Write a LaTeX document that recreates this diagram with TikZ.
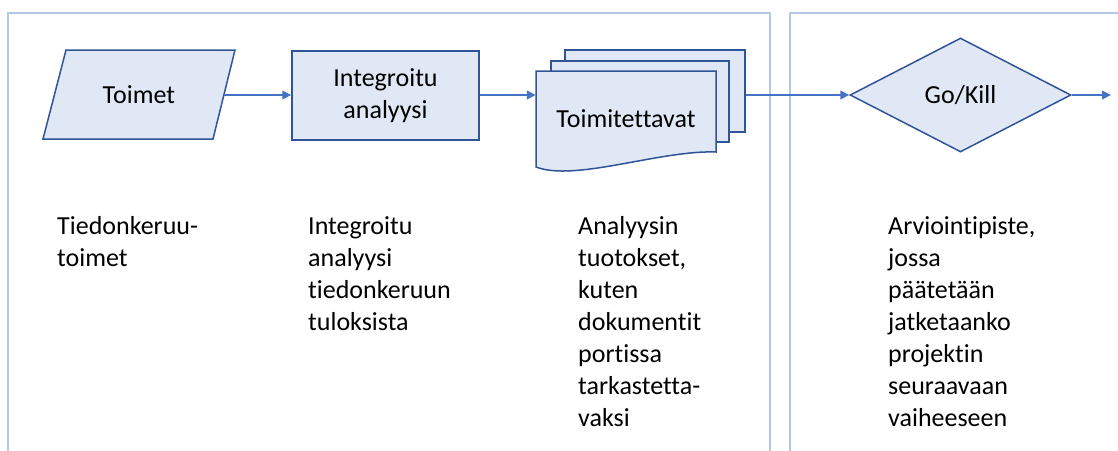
\documentclass[tikz,border=0pt]{standalone}
\usepackage{fontspec}
\setmainfont[Ligatures=NoCommon]{Carlito}
\usetikzlibrary{arrows.meta,shapes.geometric,calc}
\definecolor{panelblue}{HTML}{B4C7E7}
\definecolor{shapefill}{HTML}{E0E7F5}
\definecolor{shapeline}{HTML}{2F5597}
\definecolor{flowblue}{HTML}{4472C4}
\begin{document}
\begin{tikzpicture}[x=1pt,y=-1pt,
  every node/.style={font=\fontsize{26}{32}\selectfont},
  panel/.style={draw=panelblue,line width=2.8pt},
  shapebox/.style={draw=shapeline,fill=shapefill,line width=1.5pt},
  flow/.style={draw=flowblue,line width=2.6pt,-{Triangle[length=9pt,width=8.5pt]}},
  note/.style={anchor=north west,inner sep=0pt,align=left,execute at begin node=\strut}]
\useasboundingbox (0,0) rectangle (1118,450);

% phase panels (open at the bottom)
\draw[panel] (8,452) -- (8,13) -- (770,13) -- (770,452);
\draw[panel] (790,452) -- (790,13) -- (1121,13);

% data collection actions (parallelogram)
\draw[shapebox] (66,50) -- (235,50) -- (213,139) -- (43,139) -- cycle;
\node[minimum width=169,minimum height=89,inner sep=0pt] (toimet) at (138.9,95) {Toimet};

% integrated analysis
\node[shapebox,minimum width=187,minimum height=89,inner sep=0pt,align=center]
  (integ) at (385.5,95.5) {Integroitu\\analyysi};

% deliverables (stacked documents)
\node[shapebox,minimum width=180,minimum height=82,inner sep=0pt] (docback) at (655,91) {};
\node[shapebox,minimum width=178,minimum height=81,inner sep=0pt] (docmid) at (640,101.5) {};
\draw[shapebox] (536,71) -- (716,71) -- (716,152)
  .. controls (660,150) and (575,182) .. (536,167) -- cycle;
\node[minimum width=180,minimum height=81,inner sep=0pt] (docfront) at (626,111.5) {};
\node[inner sep=0pt] (docs) at (626,119) {Toimitettavat};

% decision gate
\node[shape=diamond,shapebox,aspect=1.94,minimum width=221,minimum height=114,inner sep=0pt]
  (gate) at (960.5,95) {Go/Kill};
\coordinate (exit) at (1111,95);

% flow connectors
\draw[flow] (toimet.east) -- (integ.west |- toimet.east);
\draw[flow] (integ.east |- toimet.east) -- (docfront.west |- toimet.east);
\draw[flow] (docback.east |- gate.west) -- (gate.west);
\draw[flow] (gate.east) -- (exit);

% descriptions
\node[note] (n1) at (57,216.5) {Tiedonkeruu-\\toimet};
\node[note] (n2) at (308,216.5) {Integroitu\\analyysi\\tiedonkeruun\\tuloksista};
\node[note] (n3) at (578,216.5) {Analyysin\\tuotokset,\\kuten\\dokumentit\\portissa\\tarkastetta-\\vaksi};
\node[note] (n4) at (888,216.5) {Arviointipiste,\\jossa\\päätetään\\jatketaanko\\projektin\\seuraavaan\\vaiheeseen};
\end{tikzpicture}
\end{document}
